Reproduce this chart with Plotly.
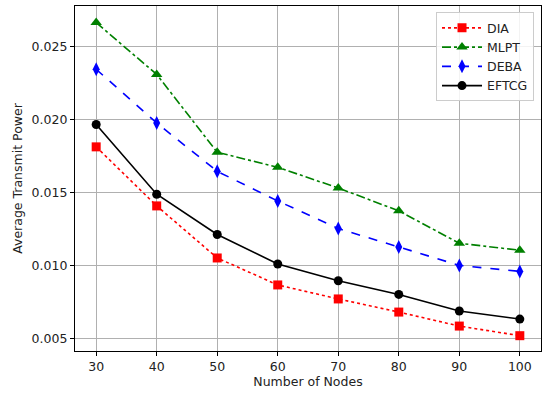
import plotly.graph_objects as go

nodes = [30, 40, 50, 60, 70, 80, 90, 100]
dia = [0.01813, 0.01408, 0.01051, 0.00866, 0.00770, 0.00680, 0.00584, 0.00518]
mlpt = [0.02665, 0.02310, 0.01776, 0.01673, 0.01531, 0.01374, 0.01152, 0.01104]
deba = [0.02345, 0.01977, 0.01645, 0.01442, 0.01253, 0.01127, 0.01000, 0.00959]
eftcg = [0.01966, 0.01488, 0.01212, 0.01010, 0.00895, 0.00801, 0.00687, 0.00632]

y_ticks = [0.005, 0.010, 0.015, 0.020, 0.025]
y_tick_text = ["0.005", "0.010", "0.015", "0.020", "0.025"]

FS = 12.5

fig = go.Figure()
fig.add_trace(go.Scatter(x=nodes, y=dia, name="DIA", mode="lines+markers",
                         line=dict(color="red", width=1.6, dash="dot"),
                         marker=dict(symbol="square", size=9, color="red")))
fig.add_trace(go.Scatter(x=nodes, y=mlpt, name="MLPT", mode="lines+markers",
                         line=dict(color="green", width=1.6, dash="dashdot"),
                         marker=dict(symbol="triangle-up", size=10, color="green")))
fig.add_trace(go.Scatter(x=nodes, y=deba, name="DEBA", mode="lines+markers",
                         line=dict(color="blue", width=1.6, dash="dash"),
                         marker=dict(symbol="diamond-tall", size=10, color="blue")))
fig.add_trace(go.Scatter(x=nodes, y=eftcg, name="EFTCG", mode="lines+markers",
                         line=dict(color="black", width=1.6),
                         marker=dict(symbol="circle", size=9, color="black")))

axis_common = dict(showline=True, linecolor="black", linewidth=1.2, mirror=True,
                   showgrid=True, gridcolor="#b0b0b0", gridwidth=1,
                   ticks="outside", ticklen=4, tickcolor="black",
                   tickfont=dict(family="DejaVu Sans", size=FS, color="#222"),
                   zeroline=False, automargin=False)

fig.update_layout(
    width=550, height=395,
    margin=dict(l=75, r=9, t=6, b=44, autoexpand=False),
    paper_bgcolor="white", plot_bgcolor="white",
    font=dict(family="DejaVu Sans", size=FS, color="#222"),
    xaxis=dict(range=[26.5, 103.5], tickvals=nodes,
               title=dict(text="Number of Nodes", font=dict(size=FS), standoff=4),
               **axis_common),
    yaxis=dict(range=[0.00413, 0.02779], tickvals=y_ticks, ticktext=y_tick_text,
               title=dict(text="Average Transmit Power", font=dict(size=FS), standoff=6),
               **axis_common),
    legend=dict(x=0.985, y=0.982, xanchor="right", yanchor="top",
                bgcolor="rgba(255,255,255,0.85)", bordercolor="#ccc", borderwidth=1,
                font=dict(size=FS), tracegroupgap=0, itemwidth=40),
    showlegend=True,
)

fig.write_html("out.html", config={"displayModeBar": False},
               post_script="document.body.style.margin='0';document.body.style.overflow='hidden';")
